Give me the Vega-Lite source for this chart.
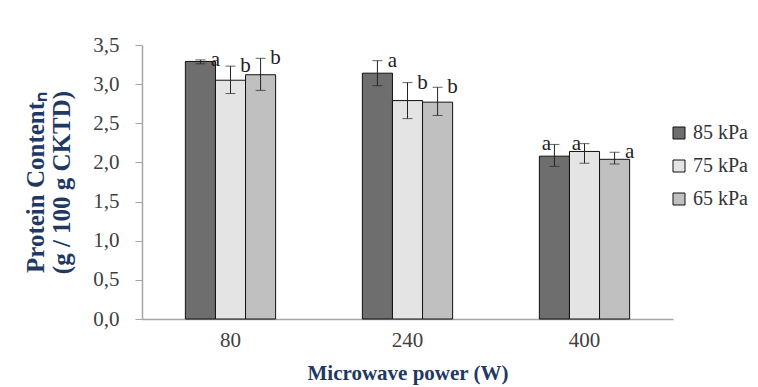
{
  "$schema": "https://vega.github.io/schema/vega-lite/v6.json",
  "width": 531,
  "height": 274,
  "autosize": {"type": "none"},
  "padding": {"left": 142, "top": 45, "right": 85, "bottom": 68},
  "background": "white",
  "config": {
    "view": {"stroke": null},
    "font": "Liberation Serif",
    "axisY": {
      "grid": false,
      "tickSize": 7,
      "tickColor": "#a6a6a6",
      "domainColor": "#a6a6a6",
      "domainWidth": 1.5,
      "labelPadding": 16,
      "labelFont": "Liberation Serif",
      "labelFontSize": 21,
      "labelColor": "#404040",
      "labelOverlap": false,
      "titleFont": "Liberation Serif",
      "titleFontSize": 25,
      "titleFontWeight": "bold",
      "titleColor": "#1f3864",
      "titlePadding": 18,
      "titleLineHeight": 26
    }
  },
  "data": {
    "values": [
      {"power": "80", "pressure": "85 kPa", "mean": 3.29, "lo": 3.26, "hi": 3.31, "letter": "a"},
      {"power": "80", "pressure": "75 kPa", "mean": 3.05, "lo": 2.88, "hi": 3.23, "letter": "b"},
      {"power": "80", "pressure": "65 kPa", "mean": 3.12, "lo": 2.92, "hi": 3.33, "letter": "b"},
      {"power": "240", "pressure": "85 kPa", "mean": 3.14, "lo": 2.98, "hi": 3.30, "letter": "a"},
      {"power": "240", "pressure": "75 kPa", "mean": 2.79, "lo": 2.56, "hi": 3.02, "letter": "b"},
      {"power": "240", "pressure": "65 kPa", "mean": 2.77, "lo": 2.60, "hi": 2.96, "letter": "b"},
      {"power": "400", "pressure": "85 kPa", "mean": 2.08, "lo": 1.95, "hi": 2.23, "letter": "a"},
      {"power": "400", "pressure": "75 kPa", "mean": 2.14, "lo": 1.99, "hi": 2.24, "letter": "a"},
      {"power": "400", "pressure": "65 kPa", "mean": 2.04, "lo": 1.98, "hi": 2.13, "letter": "a"}
    ]
  },
  "encoding": {
    "x": {
      "field": "power",
      "type": "nominal",
      "sort": ["80", "240", "400"],
      "scale": {"paddingInner": 0.49, "paddingOuter": 0.245},
      "axis": {
        "title": "Microwave power (W)",
        "labelAngle": 0,
        "ticks": false,
        "labelPadding": 10,
        "labelFont": "Liberation Serif",
        "labelFontSize": 21,
        "labelColor": "#404040",
        "domainColor": "#a6a6a6",
        "domainWidth": 1.5,
        "titleFont": "Liberation Serif",
        "titleFontSize": 21,
        "titleFontWeight": "bold",
        "titleColor": "#1f3864",
        "titlePadding": 12
      }
    },
    "xOffset": {
      "field": "pressure",
      "type": "nominal",
      "sort": ["85 kPa", "75 kPa", "65 kPa"],
      "scale": {"paddingInner": 0, "paddingOuter": 0}
    }
  },
  "layer": [
    {
      "mark": {"type": "bar", "stroke": "#111111", "strokeWidth": 1},
      "encoding": {
        "y": {
          "field": "mean",
          "type": "quantitative",
          "scale": {"domain": [0, 3.5]},
          "axis": {
            "title": ["Protein Contentₙ", "(g / 100 g CKTD)"],
            "values": [0, 0.5, 1, 1.5, 2, 2.5, 3, 3.5],
            "labelExpr": "replace(format(datum.value, '.1f'), '.', ',')"
          }
        },
        "fill": {
          "field": "pressure",
          "type": "nominal",
          "sort": ["85 kPa", "75 kPa", "65 kPa"],
          "scale": {"domain": ["85 kPa", "75 kPa", "65 kPa"], "range": ["#6e6e6e", "#e4e4e4", "#c0c0c0"]},
          "legend": {
            "title": null,
            "orient": "none",
            "legendX": 527,
            "legendY": 78,
            "symbolType": "square",
            "symbolSize": 144,
            "symbolStrokeColor": "#111111",
            "symbolStrokeWidth": 1,
            "labelFont": "Liberation Serif",
            "labelFontSize": 20,
            "labelColor": "#333333",
            "labelOffset": 4,
            "rowPadding": 13
          }
        }
      }
    },
    {
      "mark": {"type": "rule", "color": "#222222", "strokeWidth": 1},
      "encoding": {
        "y": {
          "field": "lo",
          "type": "quantitative",
          "axis": {
            "title": ["Protein Contentₙ", "(g / 100 g CKTD)"],
            "values": [0, 0.5, 1, 1.5, 2, 2.5, 3, 3.5],
            "labelExpr": "replace(format(datum.value, '.1f'), '.', ',')"
          }
        },
        "y2": {"field": "hi"}
      }
    },
    {
      "mark": {"type": "tick", "color": "#222222", "thickness": 1, "size": 10},
      "encoding": {
        "y": {
          "field": "lo",
          "type": "quantitative",
          "axis": {
            "title": ["Protein Contentₙ", "(g / 100 g CKTD)"],
            "values": [0, 0.5, 1, 1.5, 2, 2.5, 3, 3.5],
            "labelExpr": "replace(format(datum.value, '.1f'), '.', ',')"
          }
        }
      }
    },
    {
      "mark": {"type": "tick", "color": "#222222", "thickness": 1, "size": 10},
      "encoding": {
        "y": {
          "field": "hi",
          "type": "quantitative",
          "axis": {
            "title": ["Protein Contentₙ", "(g / 100 g CKTD)"],
            "values": [0, 0.5, 1, 1.5, 2, 2.5, 3, 3.5],
            "labelExpr": "replace(format(datum.value, '.1f'), '.', ',')"
          }
        }
      }
    },
    {
      "transform": [{"filter": "!(datum.power == '400' && datum.pressure != '65 kPa')"}],
      "mark": {"type": "text", "font": "Liberation Serif", "fontSize": 21, "color": "#222222", "dx": 15, "baseline": "middle"},
      "encoding": {
        "y": {
          "field": "hi",
          "type": "quantitative",
          "axis": {
            "title": ["Protein Contentₙ", "(g / 100 g CKTD)"],
            "values": [0, 0.5, 1, 1.5, 2, 2.5, 3, 3.5],
            "labelExpr": "replace(format(datum.value, '.1f'), '.', ',')"
          }
        },
        "text": {"field": "letter"}
      }
    },
    {
      "transform": [{"filter": "datum.power == '400' && datum.pressure != '65 kPa'"}],
      "mark": {"type": "text", "font": "Liberation Serif", "fontSize": 21, "color": "#222222", "dx": -8, "baseline": "middle"},
      "encoding": {
        "y": {
          "field": "hi",
          "type": "quantitative",
          "axis": {
            "title": ["Protein Contentₙ", "(g / 100 g CKTD)"],
            "values": [0, 0.5, 1, 1.5, 2, 2.5, 3, 3.5],
            "labelExpr": "replace(format(datum.value, '.1f'), '.', ',')"
          }
        },
        "text": {"field": "letter"}
      }
    }
  ]
}
